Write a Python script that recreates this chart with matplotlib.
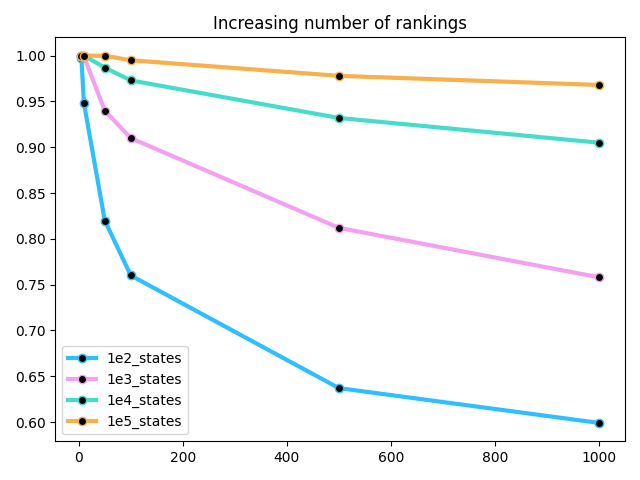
import matplotlib
matplotlib.use("Agg")
import matplotlib.pyplot as plt

x = [5, 10, 50, 100, 500, 1000]
s1e2 = [0.998, 0.948, 0.820, 0.760, 0.637, 0.599]
s1e3 = [1.000, 0.999, 0.940, 0.910, 0.812, 0.758]
s1e4 = [1.000, 1.000, 0.987, 0.973, 0.932, 0.905]
s1e5 = [1.000, 1.000, 1.000, 0.995, 0.978, 0.968]
labels = ["1e2_states", "1e3_states", "1e4_states", "1e5_states"]
colors = ["#2EBFFF", "#F4A0F0", "#44DDCC", "#F8B04A"]

fig, ax = plt.subplots(figsize=(6.4, 4.8), dpi=100)
for ys, lab, c in zip([s1e2, s1e3, s1e4, s1e5], labels, colors):
    ax.plot(x, ys, color=c, lw=3, marker="o", markersize=6,
            markerfacecolor="black", markeredgecolor=c, label=lab)
ax.set_title("Increasing number of rankings")
ax.legend(loc="lower left")
fig.tight_layout()
fig.savefig("out.png")
